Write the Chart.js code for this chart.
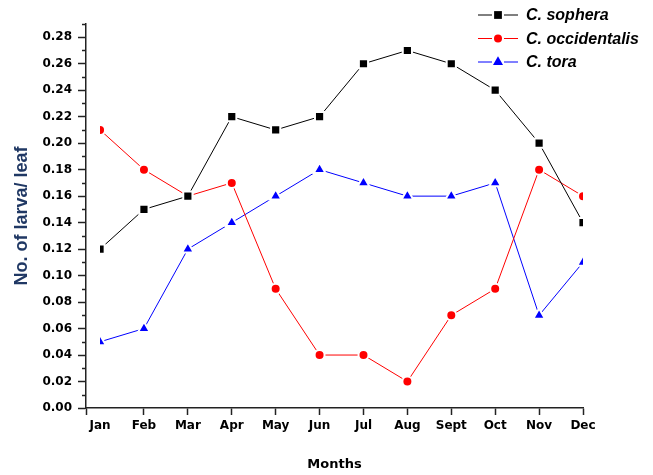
<!DOCTYPE html>
<html>
<head>
<meta charset="utf-8">
<script src="https://cdn.jsdelivr.net/npm/chart.js@4.4.0/dist/chart.umd.min.js"></script>
<style>
  html, body { margin: 0; padding: 0; background: #fff; }
  #myChart { display: block; }
</style>
</head>
<body>
<canvas id="myChart" width="653" height="475"></canvas>
<script>
// data
const months = ['Jan', 'Feb', 'Mar', 'Apr', 'May', 'Jun', 'Jul', 'Aug', 'Sept', 'Oct', 'Nov', 'Dec'];
const monthNums = [1, 2, 3, 4, 5, 6, 7, 8, 9, 10, 11, 12];
const sophera = [0.12, 0.15, 0.16, 0.22, 0.21, 0.22, 0.26, 0.27, 0.26, 0.24, 0.20, 0.14];
const occidentalis = [0.21, 0.18, 0.16, 0.17, 0.09, 0.04, 0.04, 0.02, 0.07, 0.09, 0.18, 0.16];
const tora = [0.05, 0.06, 0.12, 0.14, 0.16, 0.18, 0.17, 0.16, 0.16, 0.17, 0.07, 0.11];
const seriesNames = ['C. sophera', 'C. occidentalis', 'C. tora'];
const yMajorTicks = [0, 0.02, 0.04, 0.06, 0.08, 0.10, 0.12, 0.14, 0.16, 0.18, 0.20, 0.22, 0.24, 0.26, 0.28];
const yMinorTicks = [0.01, 0.03, 0.05, 0.07, 0.09, 0.11, 0.13, 0.15, 0.17, 0.19, 0.21, 0.23, 0.25, 0.27, 0.29];
const xStart = 0.68;

const ctx = document.getElementById('myChart').getContext('2d');

function points(vals) {
  return vals.map((v, i) => ({ x: monthNums[i], y: v }));
}

// small minor ticks on the y axis
const minorTicks = {
  id: 'minorTicks',
  afterDraw(chart) {
    const y = chart.scales.y;
    const c = chart.ctx;
    c.save();
    c.strokeStyle = '#222';
    c.lineWidth = 1.5;
    yMinorTicks.forEach(function(v) {
      const py = Math.round(y.getPixelForValue(v)) + 0.5;
      c.beginPath();
      c.moveTo(y.right - 4, py);
      c.lineTo(y.right, py);
      c.stroke();
    });
    c.restore();
  }
};

// origin-style legend: line - marker - line, then italic name
const originLegend = {
  id: 'originLegend',
  afterDraw(chart) {
    const c = chart.ctx;
    chart.data.datasets.forEach(function(ds, i) {
      const y = 15 + i * 23.5;
      c.save();
      c.strokeStyle = ds.borderColor;
      c.lineWidth = 1;
      c.beginPath();
      c.moveTo(478, y); c.lineTo(492, y);
      c.moveTo(504, y); c.lineTo(518, y);
      c.stroke();
      c.fillStyle = ds.pointBackgroundColor;
      Chart.helpers.drawPoint(c, { pointStyle: ds.pointStyle, radius: ds.pointRadius - 1, borderWidth: 0, rotation: 0 }, 498, y);
      c.fillStyle = '#000';
      c.font = 'italic bold 16px "Liberation Sans", Arial, sans-serif';
      c.textBaseline = 'middle';
      c.fillText(ds.label, 526, y + 1);
      c.restore();
    });
  }
};

const tickFont = { family: '"DejaVu Sans", sans-serif', size: 12, weight: 'bold' };

var chart = new Chart(ctx, {
  type: 'line',
  data: {
    datasets: [{
      label: seriesNames[0],
      data: points(sophera),
      borderColor: '#000000',
      pointBackgroundColor: '#000000',
      pointBorderColor: '#ffffff',
      pointBorderWidth: 2,
      pointStyle: 'rect',
      pointRadius: 6.5,
      borderWidth: 1,
      clip: { left: -14, right: 0, top: 10, bottom: 0 }
    }, {
      label: seriesNames[1],
      data: points(occidentalis),
      borderColor: '#ff0000',
      pointBackgroundColor: '#ff0000',
      pointBorderColor: '#ffffff',
      pointBorderWidth: 2,
      pointStyle: 'circle',
      pointRadius: 5,
      borderWidth: 1,
      clip: { left: -14, right: 0, top: 10, bottom: 0 }
    }, {
      label: seriesNames[2],
      data: points(tora),
      borderColor: '#0000ff',
      pointBackgroundColor: '#0000ff',
      pointBorderColor: '#ffffff',
      pointBorderWidth: 2,
      pointStyle: 'triangle',
      pointRadius: 6.8,
      borderWidth: 1,
      clip: { left: -14, right: 0, top: 10, bottom: 0 }
    }]
  },
  options: {
    responsive: false,
    animation: false,
    events: [],
    layout: { padding: { left: 0, right: 70, top: 24, bottom: 0 } },
    plugins: {
      legend: { display: false },
      tooltip: { enabled: false }
    },
    scales: {
      x: {
        type: 'linear',
        min: xStart,
        max: 12,
        afterBuildTicks: function(scale) {
          scale.ticks = [xStart].concat(monthNums).map(v => ({ value: v }));
        },
        afterFit: function(scale) { scale.height = 67; },
        grid: {
          drawOnChartArea: false,
          drawTicks: true,
          tickLength: 7,
          tickWidth: 1.5,
          tickColor: function(c) { return c.tick && c.tick.value === 1 ? 'rgba(0,0,0,0)' : '#222'; }
        },
        border: { display: true, color: '#222', width: 1.5 },
        ticks: {
          autoSkip: false,
          maxRotation: 0,
          padding: 4,
          color: '#000',
          font: tickFont,
          callback: function(v) {
            const i = monthNums.indexOf(v);
            return i >= 0 ? months[i] : '';
          }
        },
        title: {
          display: true,
          text: 'Months',
          color: '#000',
          font: { family: '"DejaVu Sans", sans-serif', size: 13, weight: 'bold' },
          padding: { top: 0, bottom: 3 }
        }
      },
      y: {
        min: 0,
        max: 0.29,
        afterBuildTicks: function(scale) {
          scale.ticks = yMajorTicks.map(v => ({ value: v }));
        },
        afterFit: function(scale) { scale.width = 86; },
        grid: {
          drawOnChartArea: false,
          drawTicks: true,
          tickLength: 8,
          tickWidth: 1.5,
          tickColor: '#222'
        },
        border: { display: true, color: '#222', width: 1.5 },
        ticks: {
          padding: 6,
          color: '#000',
          font: tickFont,
          callback: function(v) { return v.toFixed(2); }
        },
        title: {
          display: true,
          text: 'No. of larva/ leaf',
          color: '#203864',
          font: { family: '"Liberation Sans", Arial, sans-serif', size: 18, weight: 'bold' },
          padding: { top: 11, bottom: 0 }
        }
      }
    }
  },
  plugins: [minorTicks, originLegend]
});
</script>
</body>
</html>
